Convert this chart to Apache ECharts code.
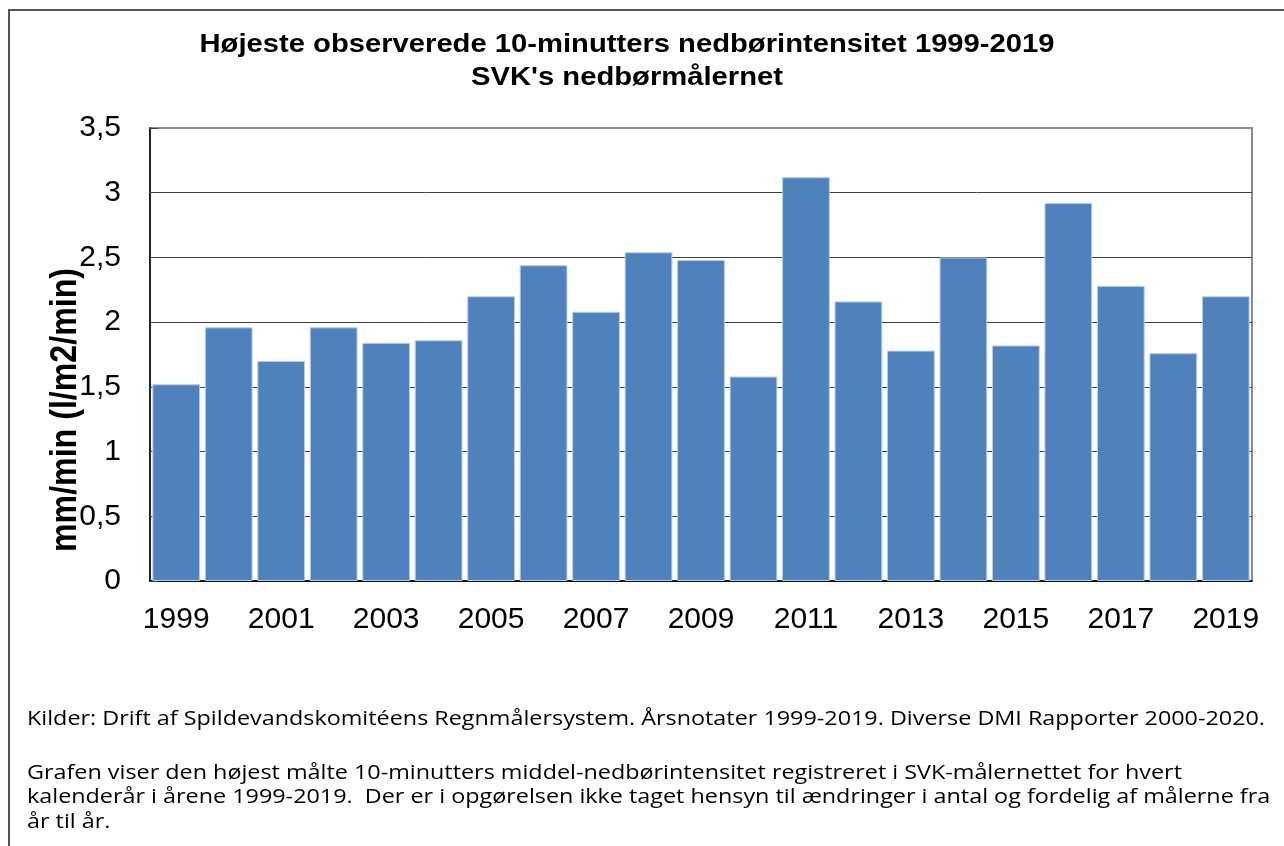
<!DOCTYPE html>
<html>
<head>
<meta charset="utf-8">
<script src="https://cdn.jsdelivr.net/npm/echarts@6/dist/echarts.min.js"></script>
<style>
  html, body { margin: 0; padding: 0; background: #fff; }
  #chart { width: 1284px; height: 846px; }
</style>
</head>
<body>
<div id="chart"></div>
<script>
// Highest observed 10-minute rainfall intensity per year (mm/min)
const years = ['1999','2000','2001','2002','2003','2004','2005','2006','2007','2008','2009',
               '2010','2011','2012','2013','2014','2015','2016','2017','2018','2019'];
const intensity = [1.52, 1.96, 1.70, 1.96, 1.84, 1.86, 2.20, 2.44, 2.08, 2.54, 2.48,
                   1.58, 3.12, 2.16, 1.78, 2.50, 1.82, 2.92, 2.28, 1.76, 2.20];

const titleLines = ['Højeste observerede 10-minutters nedbørintensitet 1999-2019', "SVK's nedbørmålernet"];
const yAxisTitle = 'mm/min (l/m2/min)';
const sourceNote = 'Kilder: Drift af Spildevandskomitéens Regnmålersystem. Årsnotater 1999-2019. Diverse DMI Rapporter 2000-2020.';
const descriptionLines = [
  'Grafen viser den højest målte 10-minutters middel-nedbørintensitet registreret i SVK-målernettet for hvert',
  'kalenderår i årene 1999-2019.  Der er i opgørelsen ikke taget hensyn til ændringer i antal og fordelig af målerne fra',
  'år til år.'
];

const SANS = 'Arial, "Liberation Sans", sans-serif';
const NOTE_FONT = '"Open Sans", Lato, sans-serif';

// text width helper, used to fit the wide note text into its box
const measureCtx = document.createElement('canvas').getContext('2d');
function textWidth(text, font) {
  measureCtx.font = font;
  return measureCtx.measureText(text).width;
}

const titleSize = 25;
const titleWidth = textWidth(titleLines[0], 'bold ' + titleSize + 'px ' + SANS);
const titleScale = 855 / titleWidth;

const noteSize = 20;
const noteScale = 1238 / textWidth(sourceNote, noteSize + 'px ' + NOTE_FONT);

const axisTitleSize = 36;
const axisTitleScale = 284 / textWidth(yAxisTitle, 'bold ' + axisTitleSize + 'px ' + SANS);

const chart = echarts.init(document.getElementById('chart'), null, { renderer: 'canvas' });

const gridColors = ['#404040','#404040','#404040','#404040','#404040','#404040','#404040','#8a8a8a'];

const noteText = (text, y) => ({
  type: 'text', x: 27, y: y, scaleX: noteScale,
  style: { text: text, font: noteSize + 'px ' + NOTE_FONT, fill: '#000',
           align: 'left', verticalAlign: 'middle' }
});

chart.setOption({
  animation: false,
  backgroundColor: '#ffffff',
  grid: {
    left: 150, right: 32, top: 128, bottom: 265,
    show: true,
    borderColor: '#8a8a8a',
    borderWidth: 2,
    backgroundColor: '#ffffff'
  },
  xAxis: {
    type: 'category',
    data: years,
    axisLine: { show: true, lineStyle: { color: '#000', width: 1.5 } },
    axisTick: { show: false },
    axisLabel: {
      interval: 1,
      margin: 24,
      fontFamily: SANS,
      fontSize: 30,
      color: '#000'
    }
  },
  yAxis: {
    type: 'value',
    min: 0, max: 3.5, interval: 0.5,
    axisLine: { show: true, lineStyle: { color: '#000', width: 1.5 } },
    axisTick: { show: true, inside: true, length: 8, lineStyle: { color: '#404040' } },
    splitLine: { show: true, lineStyle: { color: gridColors, width: 1 } },
    axisLabel: {
      margin: 29,
      fontFamily: SANS,
      fontSize: 30,
      color: '#000',
      formatter: v => String(v).replace('.', ',')
    }
  },
  series: [{
    type: 'bar',
    data: intensity,
    barCategoryGap: '9%',
    itemStyle: { color: '#4F81BD', borderColor: '#B9CDE5', borderWidth: 1 }
  }],
  graphic: [
    // outer frame (top and left edges)
    { type: 'polyline', silent: true,
      shape: { points: [[9, 846], [9, 10], [1284, 10]] },
      style: { stroke: '#555', lineWidth: 2, fill: null } },
    // two-line chart title
    { type: 'text', x: 627, y: 45, scaleX: titleScale,
      style: { text: titleLines[0], font: 'bold ' + titleSize + 'px ' + SANS, fill: '#000',
               align: 'center', verticalAlign: 'middle' } },
    { type: 'text', x: 627, y: 78, scaleX: titleScale,
      style: { text: titleLines[1], font: 'bold ' + titleSize + 'px ' + SANS, fill: '#000',
               align: 'center', verticalAlign: 'middle' } },
    // rotated y-axis title
    { type: 'text', x: 66, y: 410, rotation: Math.PI / 2, scaleX: axisTitleScale,
      style: { text: yAxisTitle, font: 'bold ' + axisTitleSize + 'px ' + SANS, fill: '#000',
               align: 'center', verticalAlign: 'middle' } },
    // notes under the chart
    noteText(sourceNote, 719),
    noteText(descriptionLines[0], 773),
    noteText(descriptionLines[1], 797.5),
    noteText(descriptionLines[2], 822)
  ]
});
</script>
</body>
</html>
